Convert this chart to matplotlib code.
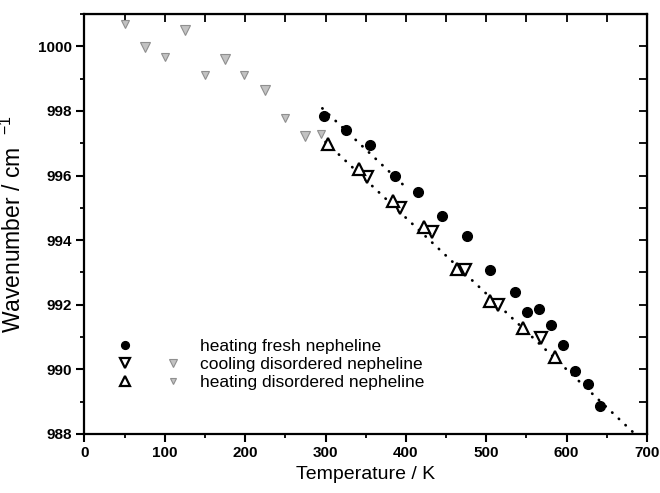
import matplotlib
matplotlib.use("Agg")
import matplotlib.pyplot as plt
from matplotlib import font_manager as fm
from matplotlib.lines import Line2D
from matplotlib.legend_handler import HandlerTuple
from matplotlib.ticker import MultipleLocator

# ---- data ----
fresh_T = [298, 326, 355, 386, 415, 445, 476, 505, 536, 551, 566, 581, 596, 611, 626, 642]
fresh_w = [997.85, 997.42, 996.94, 995.99, 995.50, 994.75, 994.12, 993.09, 992.41,
           991.77, 991.88, 991.38, 990.76, 989.96, 989.55, 988.87]

cool_T = [351, 393, 432, 474, 515, 568]
cool_w = [995.94, 994.98, 994.25, 993.07, 992.00, 990.97]

heat_T = [303, 341, 384, 423, 464, 505, 546, 585]
heat_w = [996.97, 996.20, 995.21, 994.42, 993.11, 992.11, 991.28, 990.38]

gcool_T = [75, 125, 175, 225, 275]
gcool_w = [999.98, 1000.51, 999.61, 998.66, 997.23]

gheat_T = [51, 100, 150, 199, 250, 294]
gheat_w = [1000.70, 999.66, 999.11, 999.11, 997.77, 997.30]

fit1_T = [296, 398]
fit1_w = [998.08, 995.68]
fit2_T = [300, 685]
fit2_w = [997.04, 988.0]

labels = ["heating fresh nepheline", "cooling disordered nepheline",
          "heating disordered nepheline"]

# ---- fonts ----
names = {f.name for f in fm.fontManager.ttflist}
base = "Liberation Sans" if "Liberation Sans" in names else "DejaVu Sans"
narrow = "Liberation Sans Narrow" if "Liberation Sans Narrow" in names else base
plt.rcParams["font.family"] = [base, "DejaVu Sans"]
plt.rcParams["mathtext.default"] = "regular"

fig = plt.figure(figsize=(6.6, 4.93), dpi=100)
ax = fig.add_axes([0.128, 0.1197, 0.8523, 0.8519])

dot = dict(linestyle=(0, (0.1, 3.2)), dash_capstyle="round", lw=2.0, color="black")
ax.plot(fit1_T, fit1_w, **dot)
ax.plot(fit2_T, fit2_w, **dot)

gkw = dict(ls="none", mfc="#c2c2c2", mec="#8f8f8f", mew=0.8)
h_gcool, = ax.plot(gcool_T, gcool_w, "v", ms=6.5, **gkw)
h_gheat, = ax.plot(gheat_T, gheat_w, "v", ms=6.0, **gkw)
h_fresh, = ax.plot(fresh_T, fresh_w, "o", ms=7, color="black", ls="none")
h_cool, = ax.plot(cool_T, cool_w, "v", ms=8.5, mfc="white", mec="black", mew=1.6, ls="none")
h_heat, = ax.plot(heat_T, heat_w, "^", ms=8.5, mfc="white", mec="black", mew=1.6, ls="none")

ax.set_xlim(0, 700)
ax.set_ylim(988, 1001)
ax.xaxis.set_major_locator(MultipleLocator(100))
ax.xaxis.set_minor_locator(MultipleLocator(50))
ax.yaxis.set_major_locator(MultipleLocator(2))
ax.yaxis.set_minor_locator(MultipleLocator(1))
ax.tick_params(which="major", direction="out", length=6, width=1.5, pad=3)
ax.tick_params(which="minor", direction="out", length=3, width=1.3)
for lab in ax.get_xticklabels() + ax.get_yticklabels():
    lab.set_fontfamily([narrow, "DejaVu Sans"])
    lab.set_fontweight("bold")
    lab.set_fontsize(11)
for s in ax.spines.values():
    s.set_linewidth(1.6)

secx = ax.secondary_xaxis("top")
secx.xaxis.set_major_locator(MultipleLocator(50))
secx.tick_params(direction="in", length=6, width=1.3, labeltop=False)
secy = ax.secondary_yaxis("right")
secy.yaxis.set_major_locator(MultipleLocator(1))
secy.tick_params(direction="in", length=6, width=1.3, labelright=False)

ax.set_xlabel("Temperature / K", fontsize=14, labelpad=4)
ax.set_ylabel("Wavenumber / cm  $^{-1}$", fontsize=16.5, labelpad=9)

blank = Line2D([], [], ls="none", marker="")
fs = 12.5
px = fs * 100 / 72
ax.legend([(h_fresh, blank), (h_cool, h_gcool), (h_heat, h_gheat)], labels,
          handler_map={tuple: HandlerTuple(ndivide=None, pad=24 / px)},
          loc="center left", bbox_to_anchor=(0.05, 0.166), frameon=False,
          fontsize=fs, handlelength=72 / px, handletextpad=0.9, markerscale=0.8,
          labelspacing=0.16, borderpad=0, borderaxespad=0)

fig.savefig("out.png", dpi=100)
